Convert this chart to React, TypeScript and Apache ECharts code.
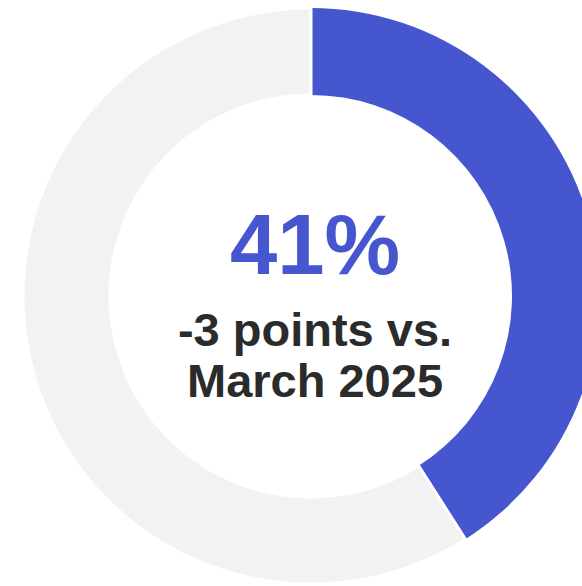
import React, { useEffect, useRef } from "react";
import * as echarts from "echarts";

const categories = ["Share", "Rest"];
const values = [41, 59];
const headline = "41%";
const subLines = ["-3 points vs.", "March 2025"];

export default function App() {
  const ref = useRef<HTMLDivElement>(null);
  useEffect(() => {
    if (!ref.current) return;
    const chart = echarts.init(ref.current, null, { renderer: "svg" });
    const colors = ["#4556CE", "#F2F2F2"];
    chart.setOption({
      animation: false,
      series: [
        {
          type: "pie",
          center: [311, 296],
          radius: [201, 288],
          startAngle: 90,
          clockwise: true,
          silent: true,
          label: { show: false },
          labelLine: { show: false },
          data: categories.map((c, i) => ({
            name: c,
            value: values[i],
            itemStyle: {
              color: colors[i],
              borderColor: "#ffffff",
              borderWidth: i === 0 ? 0 : 3,
            },
          })),
        },
      ],
      graphic: [
        {
          type: "text",
          x: 315,
          y: 244,
          style: {
            text: headline,
            fill: "#4556CE",
            font: "bold 85px 'Liberation Sans', Arial, sans-serif",
            align: "center",
            verticalAlign: "middle",
          },
        },
        {
          type: "text",
          x: 315,
          y: 329,
          style: {
            text: subLines[0],
            fill: "#2B2B2B",
            font: "bold 47px 'Liberation Sans', Arial, sans-serif",
            align: "center",
            verticalAlign: "middle",
          },
        },
        {
          type: "text",
          x: 315,
          y: 380,
          style: {
            text: subLines[1],
            fill: "#2B2B2B",
            font: "bold 47px 'Liberation Sans', Arial, sans-serif",
            align: "center",
            verticalAlign: "middle",
          },
        },
      ],
    });
    return () => chart.dispose();
  }, []);
  return (
    <div
      ref={ref}
      style={{ position: "fixed", left: 0, top: 0, width: 582, height: 586, background: "#fff" }}
    />
  );
}
